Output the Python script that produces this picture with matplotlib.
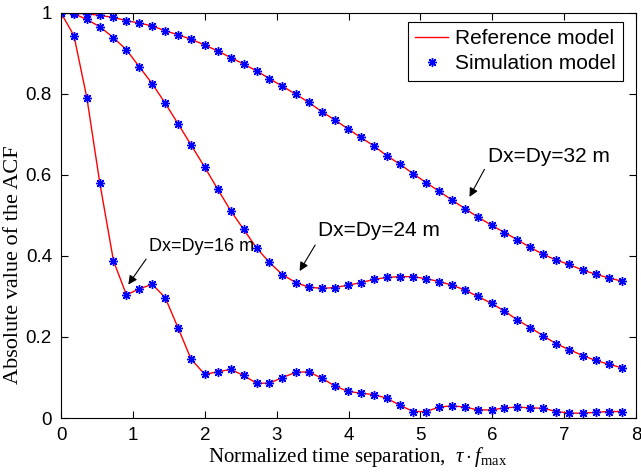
import numpy as np
import matplotlib
matplotlib.use('Agg')
import matplotlib.pyplot as plt

plt.rcParams['font.family'] = 'Liberation Sans'
plt.rcParams['mathtext.fontset'] = 'custom'
plt.rcParams['mathtext.rm'] = 'Liberation Serif'
plt.rcParams['mathtext.it'] = 'Liberation Serif:italic'

# normalized time separation (tau * f_max)
tau = [0.00, 0.18, 0.36, 0.54, 0.73, 0.91, 1.09, 1.27, 1.45, 1.63,
       1.81, 2.00, 2.18, 2.36, 2.54, 2.72, 2.90, 3.08, 3.27, 3.45,
       3.63, 3.81, 3.99, 4.17, 4.35, 4.53, 4.72, 4.90, 5.08, 5.26,
       5.44, 5.62, 5.80, 5.99, 6.17, 6.35, 6.53, 6.71, 6.89, 7.07,
       7.26, 7.44, 7.62, 7.80]

# |ACF| for the three array spacings
acf16 = [1.0, 0.944, 0.790, 0.580, 0.388, 0.304, 0.319, 0.330, 0.297, 0.222,
         0.145, 0.108, 0.114, 0.120, 0.105, 0.086, 0.086, 0.100, 0.113, 0.114,
         0.098, 0.079, 0.066, 0.061, 0.058, 0.049, 0.031, 0.016, 0.016, 0.027,
         0.030, 0.027, 0.020, 0.020, 0.025, 0.027, 0.025, 0.024, 0.016, 0.012,
         0.012, 0.014, 0.016, 0.016]
acf24 = [1.0, 0.998, 0.984, 0.966, 0.939, 0.909, 0.867, 0.825, 0.777, 0.726,
         0.674, 0.619, 0.565, 0.512, 0.466, 0.420, 0.384, 0.354, 0.334, 0.323,
         0.320, 0.322, 0.328, 0.334, 0.342, 0.347, 0.349, 0.349, 0.344, 0.337,
         0.328, 0.316, 0.300, 0.283, 0.264, 0.242, 0.223, 0.203, 0.183, 0.169,
         0.154, 0.142, 0.133, 0.124]
acf32 = [1.0, 0.999, 0.998, 0.994, 0.989, 0.981, 0.975, 0.968, 0.956, 0.946,
         0.935, 0.921, 0.906, 0.890, 0.874, 0.857, 0.838, 0.819, 0.799, 0.779,
         0.756, 0.736, 0.714, 0.693, 0.672, 0.648, 0.626, 0.603, 0.581, 0.560,
         0.538, 0.517, 0.496, 0.476, 0.458, 0.440, 0.421, 0.404, 0.390, 0.379,
         0.365, 0.355, 0.346, 0.338]

fig = plt.figure(figsize=(6.41, 4.72), dpi=100)
ax = fig.add_axes([0.0952, 0.1144, 0.8970, 0.8581])

asterisk = (8, 2, 0)
first = True
for acf in [acf32, acf24, acf16]:
    ax.plot(tau, acf, color='red', lw=1.0,
            label='Reference model' if first else None)
    ax.plot(tau, acf, ls='none', marker=asterisk, ms=6.5, mew=1.0,
            color='blue', label='Simulation model' if first else None)
    first = False

ax.set_xlim(0, 8)
ax.set_ylim(0, 1)
ax.set_xticks(range(0, 9))
ax.set_yticks([0, 0.2, 0.4, 0.6, 0.8, 1])
ax.set_yticklabels(['0', '0.2', '0.4', '0.6', '0.8', '1'])
ax.tick_params(direction='in', top=True, right=True, labelsize=13.5,
               length=5, pad=6.5)

ax.set_xlabel(r'Normalized time separation,  $\tau\cdot f_{\rm max}$',
              family='Liberation Serif', fontsize=15, va='center')
ax.xaxis.set_label_coords(0.517, -0.0956)
ax.set_ylabel('Absolute value of the ACF', family='Liberation Serif',
              fontsize=16, va='center')
ax.yaxis.set_label_coords(-0.082, 0.379)

# annotations
arrow = dict(arrowstyle='-|>', color='black', lw=0.8, mutation_scale=13)
ax.annotate('', xy=(5.665, 0.540), xytext=(5.91, 0.620), arrowprops=arrow)
ax.text(5.94, 0.645, 'Dx=Dy=32 m', fontsize=15, va='center', ha='left')
ax.annotate('', xy=(3.30, 0.357), xytext=(3.556, 0.433), arrowprops=arrow)
ax.text(3.57, 0.462, 'Dx=Dy=24 m', fontsize=15, va='center', ha='left')
ax.annotate('', xy=(0.914, 0.324), xytext=(1.206, 0.398), arrowprops=arrow)
ax.text(1.228, 0.423, 'Dx=Dy=16 m', fontsize=13, va='center', ha='left')

leg = ax.legend(loc='upper right', bbox_to_anchor=(0.977, 0.978),
                borderaxespad=0, fancybox=False, edgecolor='black',
                framealpha=1, fontsize=15, handlelength=1.6,
                handletextpad=0.3, numpoints=1, borderpad=0.35,
                labelspacing=0.3)
leg.get_frame().set_linewidth(0.8)

fig.savefig('out.png', dpi=100)
